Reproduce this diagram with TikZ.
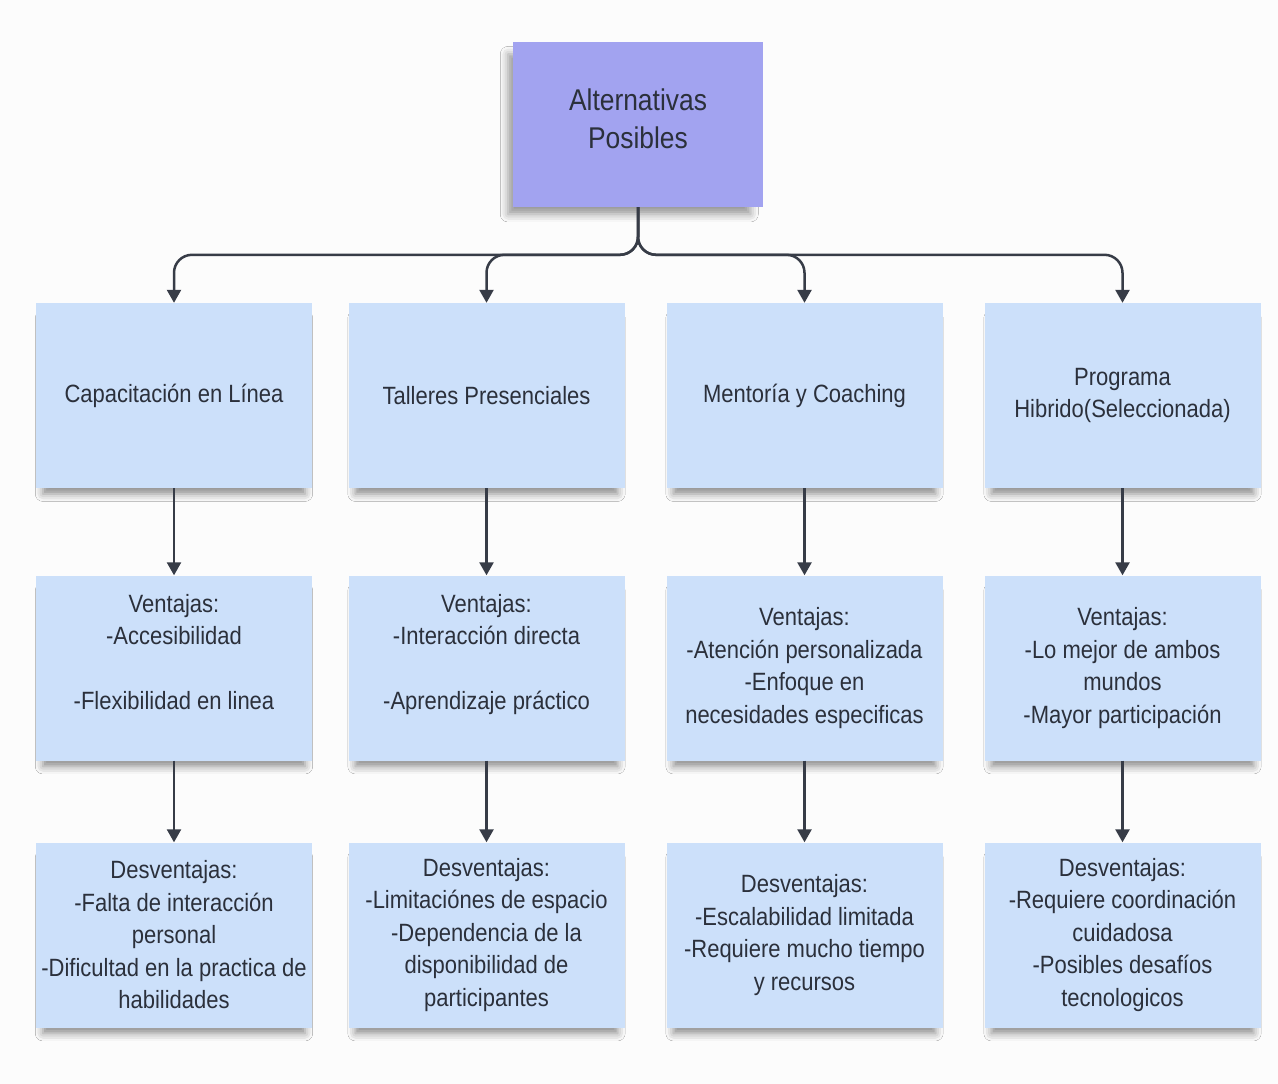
\documentclass[tikz,border=0pt]{standalone}
\usepackage{fontspec}
\setmainfont{Liberation Sans}[FakeStretch=0.88]
\usepackage{xcolor}
\usepackage{tikz}
\usetikzlibrary{arrows.meta,shadows.blur}
\definecolor{boxblue}{HTML}{CCE0FA}
\definecolor{boxpurple}{HTML}{A2A3F0}
\definecolor{ink}{HTML}{2B303B}
\definecolor{wire}{HTML}{373C47}
\definecolor{paper}{HTML}{FCFCFC}

\begin{document}
\begin{tikzpicture}[x=1pt,y=-1pt,
  card/.style={fill=boxblue, text=ink, align=center, minimum width=276pt, minimum height=185pt,
    font=\fontsize{25}{32.5}\selectfont,
    blur shadow={shadow xshift=0pt, shadow yshift=-11pt, shadow scale=0.95,
      shadow blur radius=8pt, shadow opacity=45}},
  headcard/.style={fill=boxpurple, text=ink, align=center, minimum width=250pt, minimum height=165pt,
    font=\fontsize{30}{38}\selectfont,
    blur shadow={shadow xshift=-9pt, shadow yshift=-10pt, shadow scale=0.97,
      shadow blur radius=8pt, shadow opacity=40}},
  arr/.style={wire, line width=2.5pt, -{Triangle[width=14pt,length=13pt]}},
  fork/.style={arr, rounded corners=18pt}]
\fill[paper] (0,0) rectangle (1278,1084);
\useasboundingbox (0,0) rectangle (1278,1084);

\node[headcard] (alt) at (638,124.5) {Alternativas\\Posibles\\[-27pt]\mbox{}};

\node[card] (linea) at (174,395.5) {Capacitación en Línea};
\node[card] (taller) at (486.5,395.5) {Talleres Presenciales};
\node[card] (mentor) at (804.5,395.5) {Mentoría y Coaching};
\node[card] (hibrido) at (1122.5,395.5) {Programa\\Hibrido(Seleccionada)};

\node[card] (linea-v) at (174,668) {Ventajas:\\-Accesibilidad\\\mbox{}\\-Flexibilidad en linea\\\mbox{}};
\node[card] (taller-v) at (486.5,668) {Ventajas:\\-Interacción directa\\\mbox{}\\-Aprendizaje práctico\\\mbox{}};
\node[card] (mentor-v) at (804.5,668) {Ventajas:\\-Atención personalizada\\-Enfoque en\\necesidades especificas};
\node[card] (hibrido-v) at (1122.5,668) {Ventajas:\\-Lo mejor de ambos\\mundos\\-Mayor participación};

\node[card] (linea-d) at (174,935) {Desventajas:\\-Falta de interacción\\personal\\-Dificultad en la practica de\\habilidades};
\node[card] (taller-d) at (486.5,935) {Desventajas:\\-Limitaciónes de espacio\\-Dependencia de la\\disponibilidad de\\participantes};
\node[card] (mentor-d) at (804.5,935) {Desventajas:\\-Escalabilidad limitada\\-Requiere mucho tiempo\\y recursos};
\node[card] (hibrido-d) at (1122.5,935) {Desventajas:\\-Requiere coordinación\\cuidadosa\\-Posibles desafíos\\tecnologicos};

% fork from the top box
\draw[fork] (alt.south) |- ([yshift=48pt]linea.north) -- (linea.north);
\draw[fork] (alt.south) |- ([yshift=48pt]taller.north) -- (taller.north);
\draw[fork] (alt.south) |- ([yshift=48pt]mentor.north) -- (mentor.north);
\draw[fork] (alt.south) |- ([yshift=48pt]hibrido.north) -- (hibrido.north);

\draw[arr] (linea) -- (linea-v);
\draw[arr] (taller) -- (taller-v);
\draw[arr] (mentor) -- (mentor-v);
\draw[arr] (hibrido) -- (hibrido-v);
\draw[arr] (linea-v) -- (linea-d);
\draw[arr] (taller-v) -- (taller-d);
\draw[arr] (mentor-v) -- (mentor-d);
\draw[arr] (hibrido-v) -- (hibrido-d);
\end{tikzpicture}
\end{document}
